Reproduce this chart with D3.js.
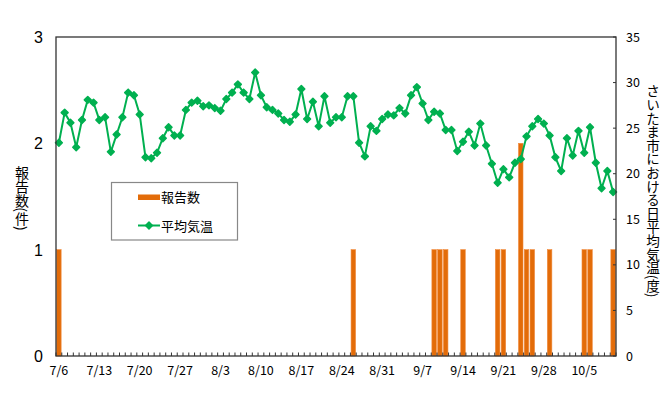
<!DOCTYPE html>
<html>
<head>
<meta charset="utf-8">
<script src="https://cdn.jsdelivr.net/npm/d3@7"></script>
<style>
  body { margin: 0; background: #fff; }
  text { font-family: "Noto Sans CJK JP", "Noto Sans", sans-serif; fill: #000; }
</style>
</head>
<body>
<div id="chart"></div>
<script>
// days shown on the category axis (7/6 .. 10/10)
const days = d3.timeDay.range(new Date(2020, 6, 6), new Date(2020, 9, 11))
const tickDays = ['7/6', '7/13', '7/20', '7/27', '8/3', '8/10', '8/17', '8/24', '8/31', '9/7', '9/14', '9/21', '9/28', '10/5']

// 報告数 per day
const reports = [
  1, 0, 0, 0, 0, 0, 0,
  0, 0, 0, 0, 0, 0, 0,
  0, 0, 0, 0, 0, 0, 0,
  0, 0, 0, 0, 0, 0, 0,
  0, 0, 0, 0, 0, 0, 0,
  0, 0, 0, 0, 0, 0, 0,
  0, 0, 0, 0, 0, 0, 0,
  0, 0, 1, 0, 0, 0, 0,
  0, 0, 0, 0, 0, 0, 0,
  0, 0, 1, 1, 1, 0, 0,
  1, 0, 0, 0, 0, 0, 1,
  1, 0, 0, 2, 1, 1, 0,
  0, 1, 0, 0, 0, 0, 0,
  1, 1, 0, 0, 0, 1
]

// 平均気温 per day
const temps = [
  23.4, 26.7, 25.6, 22.9, 25.9, 28.1, 27.8,
  25.9, 26.2, 22.4, 24.3, 26.2, 28.9, 28.6,
  26.5, 21.8, 21.7, 22.3, 23.9, 25.1, 24.2,
  24.2, 27.0, 27.8, 28.0, 27.4, 27.5, 27.2,
  26.9, 28.2, 28.9, 29.8, 28.9, 28.2, 31.1,
  28.6, 27.3, 27.0, 26.6, 25.9, 25.7, 26.5,
  29.3, 26.0, 27.9, 25.2, 28.5, 25.6, 26.2,
  26.2, 28.5, 28.5, 23.4, 21.9, 25.2, 24.7,
  26.0, 26.5, 26.4, 27.2, 26.6, 28.6, 29.5,
  27.7, 25.9, 26.8, 26.6, 24.8, 24.8, 22.5,
  23.5, 24.6, 23.1, 25.5, 23.1, 21.1, 19.0,
  20.5, 19.6, 21.2, 21.6, 24.1, 25.2, 26.0,
  25.5, 24.2, 21.8, 20.3, 23.9, 22.0, 24.7,
  22.3, 25.1, 21.2, 18.4, 20.3, 18.0
]

const leftTicks = [0, 1, 2, 3]
const rightTicks = [0, 5, 10, 15, 20, 25, 30, 35]

const width = 670
const height = 397
const margin = { top: 37, right: 54, bottom: 41, left: 56 }
const fmt = d3.timeFormat('%-m/%-d')
const labels = days.map(fmt)

const svg = d3.select('#chart')
  .append('svg')
  .attr('width', width)
  .attr('height', height)
  .attr('viewBox', `0 0 ${width} ${height}`)

svg.append('rect').attr('width', width).attr('height', height).attr('fill', '#fff')

const x = d3.scaleBand()
  .domain(labels)
  .range([margin.left, width - margin.right])
  .paddingInner(0.22)
  .paddingOuter(0.11)

const yLeft = d3.scaleLinear().domain([0, 3]).range([height - margin.bottom, margin.top])
const yRight = d3.scaleLinear().domain([0, 35]).range([height - margin.bottom, margin.top])

const step = x.step()
const cx = day => x(day) + x.bandwidth() / 2

// bars
svg.append('g')
  .attr('class', 'bars')
  .selectAll('rect')
  .data(reports.map((v, i) => ({ v, day: labels[i] })).filter(d => d.v > 0))
  .enter()
  .append('rect')
  .attr('x', d => x(d.day))
  .attr('width', x.bandwidth())
  .attr('y', d => yLeft(d.v))
  .attr('height', d => yLeft(0) - yLeft(d.v))
  .attr('fill', '#E36C09')
  .attr('stroke', '#F0893A')
  .attr('stroke-width', 0.6)

// temperature line
const line = d3.line()
  .x((d, i) => cx(labels[i]))
  .y(d => yRight(d))

svg.append('path')
  .datum(temps)
  .attr('d', line)
  .attr('fill', 'none')
  .attr('stroke', '#00B050')
  .attr('stroke-width', 2)

const diamond = d3.symbol().type(d3.symbolDiamond2).size(30)

svg.append('g')
  .selectAll('path')
  .data(temps)
  .enter()
  .append('path')
  .attr('d', diamond)
  .attr('transform', (d, i) => `translate(${cx(labels[i])},${yRight(d)})`)
  .attr('fill', '#00B050')
  .attr('stroke', '#00B050')
  .attr('stroke-width', 1.5)
  .attr('stroke-linejoin', 'round')

// frame
const x0 = margin.left
const x1 = width - margin.right
svg.append('rect')
  .attr('x', x0)
  .attr('y', margin.top)
  .attr('width', x1 - x0)
  .attr('height', yLeft(0) - margin.top)
  .attr('fill', 'none')
  .attr('stroke', '#333')
  .attr('stroke-width', 1.3)

// bottom axis: small ticks at each day boundary, pointing up
svg.append('g')
  .selectAll('line')
  .data(d3.range(labels.length + 1))
  .enter()
  .append('line')
  .attr('x1', i => x0 + i * step)
  .attr('x2', i => x0 + i * step)
  .attr('y1', yLeft(0))
  .attr('y2', yLeft(0) - 3.5)
  .attr('stroke', '#333')
  .attr('stroke-width', 1)

svg.append('g')
  .selectAll('text')
  .data(tickDays)
  .enter()
  .append('text')
  .attr('x', d => cx(d))
  .attr('y', 375)
  .attr('text-anchor', 'middle')
  .attr('font-size', 12.5)
  .text(d => d)

// left axis labels
svg.append('g')
  .selectAll('text')
  .data(leftTicks)
  .enter()
  .append('text')
  .attr('x', 43)
  .attr('y', d => yLeft(d) + 6)
  .attr('text-anchor', 'end')
  .attr('font-size', 16)
  .style('font-family', 'Liberation Sans, Arial, sans-serif')
  .text(d => d)

// right axis ticks + labels
const right = svg.append('g')
right.selectAll('line')
  .data(rightTicks)
  .enter()
  .append('line')
  .attr('x1', x1 - 3)
  .attr('x2', x1)
  .attr('y1', d => yRight(d))
  .attr('y2', d => yRight(d))
  .attr('stroke', '#333')
right.selectAll('text')
  .data(rightTicks)
  .enter()
  .append('text')
  .attr('x', 626)
  .attr('y', d => yRight(d) + 4.5)
  .attr('font-size', 12.5)
  .text(d => d)

// axis titles, written vertically
svg.append('text')
  .attr('x', 22)
  .attr('y', 198)
  .attr('text-anchor', 'middle')
  .attr('font-size', 14)
  .style('writing-mode', 'vertical-rl')
  .text('報告数(件)')

svg.append('text')
  .attr('x', 653)
  .attr('y', 191)
  .attr('text-anchor', 'middle')
  .attr('font-size', 13.6)
  .style('writing-mode', 'vertical-rl')
  .text('さいたま市における日平均気温(度)')

// legend
const legend = svg.append('g')
legend.append('rect')
  .attr('x', 111.5)
  .attr('y', 182.5)
  .attr('width', 126)
  .attr('height', 57.5)
  .attr('fill', '#fff')
  .attr('stroke', '#888')
  .attr('stroke-width', 1.2)
legend.append('rect')
  .attr('x', 138)
  .attr('y', 194.5)
  .attr('width', 22)
  .attr('height', 5.5)
  .attr('fill', '#E36C09')
legend.append('text')
  .attr('x', 161)
  .attr('y', 202)
  .attr('font-size', 13)
  .text('報告数')
legend.append('line')
  .attr('x1', 138)
  .attr('x2', 160)
  .attr('y1', 225.5)
  .attr('y2', 225.5)
  .attr('stroke', '#00B050')
  .attr('stroke-width', 2)
legend.append('path')
  .attr('d', diamond)
  .attr('transform', 'translate(149,225.5)')
  .attr('fill', '#00B050')
  .attr('stroke', '#00B050')
  .attr('stroke-width', 1.5)
  .attr('stroke-linejoin', 'round')
legend.append('text')
  .attr('x', 161)
  .attr('y', 230.5)
  .attr('font-size', 13)
  .text('平均気温')
</script>
</body>
</html>
